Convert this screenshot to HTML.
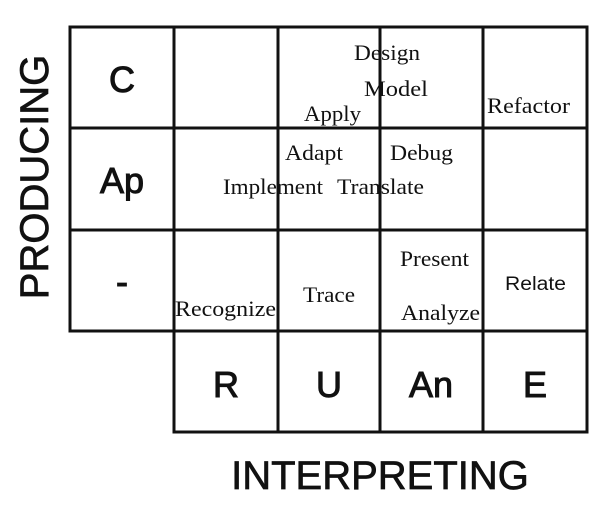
<!DOCTYPE html>
<html><head><style>
html,body{margin:0;padding:0;background:#fff;}
svg{display:block}
.a{font-family:"Liberation Sans",sans-serif;}
.t{font-family:"Liberation Serif",serif;font-size:22px;fill:#111;}
</style></head><body>
<svg width="612" height="506" viewBox="0 0 612 506">
<g stroke="#111" stroke-width="3" fill="none">
<rect x="70" y="27" width="517" height="304"/>
<line x1="70" y1="128" x2="587" y2="128"/>
<line x1="70" y1="230" x2="587" y2="230"/>
<polyline points="174,331 174,432 587,432 587,331"/>
<line x1="174" y1="27" x2="174" y2="432"/>
<line x1="278" y1="27" x2="278" y2="432"/>
<line x1="380" y1="27" x2="380" y2="432"/>
<line x1="483" y1="27" x2="483" y2="432"/>
</g>
<g class="a" font-size="36" text-anchor="middle" fill="#111" stroke="#111" stroke-width="1">
<text x="122" y="92">C</text>
<text x="122" y="193">Ap</text>
<text x="122" y="294">-</text>
<text x="226" y="397">R</text>
<text x="329" y="397">U</text>
<text x="431" y="397">An</text>
<text x="535" y="397">E</text>
</g>
<text class="a" font-size="40" x="380" y="489" text-anchor="middle" fill="#111" stroke="#111" stroke-width="0.7">INTERPRETING</text>
<text class="a" font-size="40" transform="translate(48,177) rotate(-90)" text-anchor="middle" fill="#111" stroke="#111" stroke-width="0.7">PRODUCING</text>
<g class="t">
<text x="354" y="60" textLength="66" lengthAdjust="spacingAndGlyphs">Design</text>
<text x="364" y="96" textLength="64" lengthAdjust="spacingAndGlyphs">Model</text>
<text x="304" y="121" textLength="57" lengthAdjust="spacingAndGlyphs">Apply</text>
<text x="487" y="113" textLength="83" lengthAdjust="spacingAndGlyphs">Refactor</text>
<text x="285" y="160" textLength="58" lengthAdjust="spacingAndGlyphs">Adapt</text>
<text x="390" y="160" textLength="63" lengthAdjust="spacingAndGlyphs">Debug</text>
<text x="223" y="194" textLength="100" lengthAdjust="spacingAndGlyphs">Implement</text>
<text x="337" y="194" textLength="87" lengthAdjust="spacingAndGlyphs">Translate</text>
<text x="400" y="266" textLength="69" lengthAdjust="spacingAndGlyphs">Present</text>
<text x="303" y="302" textLength="52" lengthAdjust="spacingAndGlyphs">Trace</text>
<text x="175" y="316" textLength="101" lengthAdjust="spacingAndGlyphs">Recognize</text>
<text x="401" y="320" textLength="79" lengthAdjust="spacingAndGlyphs">Analyze</text>
</g>
<text class="a" x="505" y="290" font-size="19" fill="#111" textLength="61" lengthAdjust="spacingAndGlyphs">Relate</text>
</svg>
</body></html>
